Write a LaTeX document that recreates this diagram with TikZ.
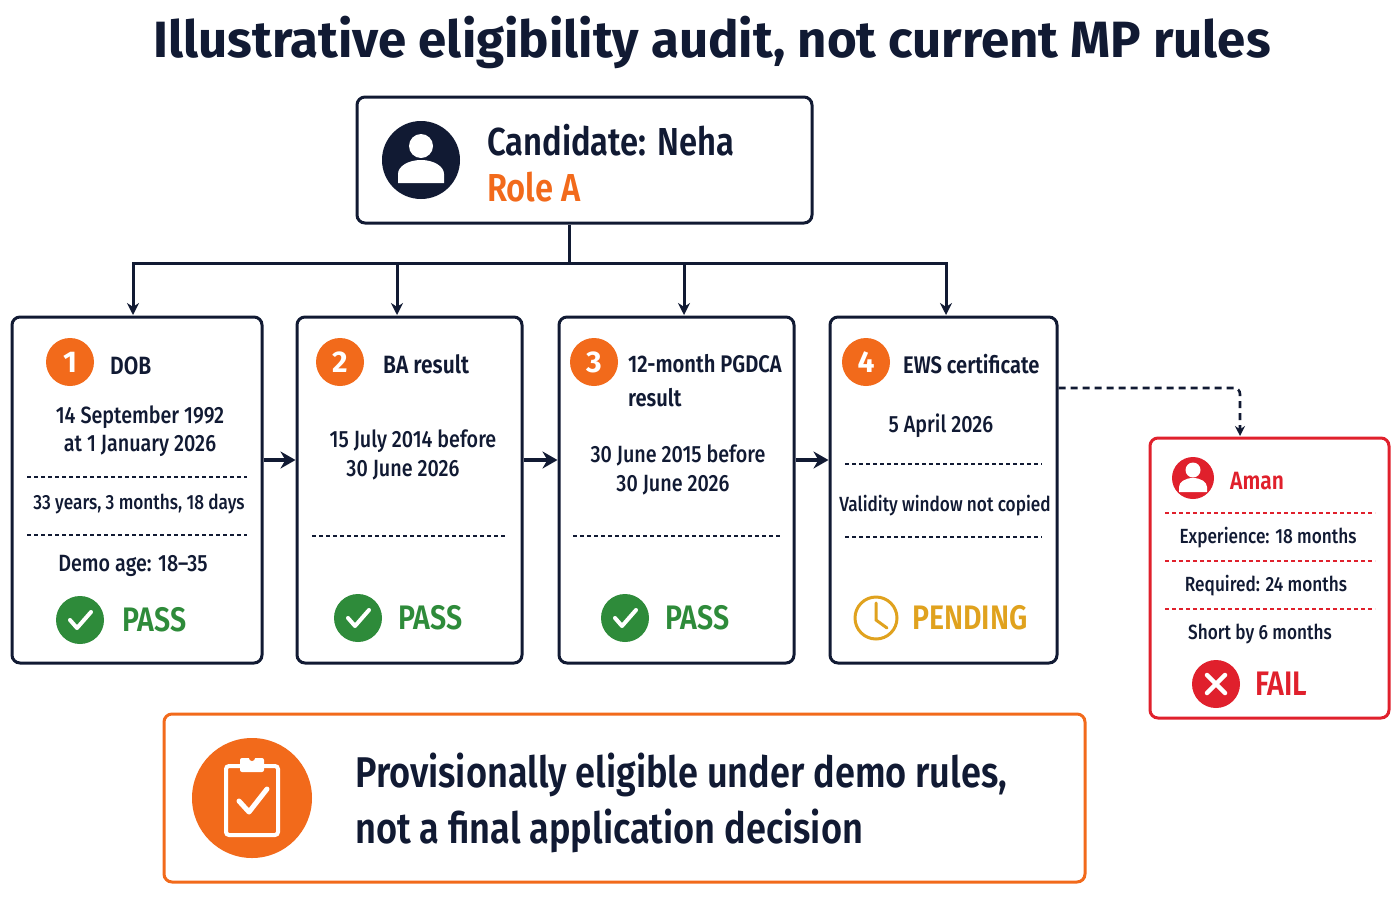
\documentclass[tikz,border=0pt]{standalone}
\usepackage{fontspec}
\setmainfont{Fira Sans}
\newfontfamily\cond[FakeStretch=0.84]{Fira Sans Medium}
\newfontfamily\condm[FakeStretch=0.84]{Fira Sans SemiBold}
\usetikzlibrary{arrows.meta,calc}
\definecolor{navy}{HTML}{111A33}
\definecolor{org}{HTML}{F26A1B}
\definecolor{grn}{HTML}{2E8B3A}
\definecolor{pend}{HTML}{E0A21E}
\definecolor{red1}{HTML}{E0202C}
\tikzset{
 box/.style={draw=navy,line width=3pt,rounded corners=8pt},
 con/.style={draw=navy,line width=3pt,-{Stealth[length=12pt,width=12pt]}},
 big/.style={draw=navy,line width=4pt,-{Stealth[length=15pt,width=17pt]}},
 dsh/.style={draw=navy,line width=1.2pt,dash pattern=on 4pt off 3pt},
 txt/.style={font=\cond\fontsize{23.5}{25}\selectfont,text=navy,inner sep=0pt},
 sm/.style={font=\cond\fontsize{20.5}{23}\selectfont,text=navy,inner sep=0pt},
 head/.style={font=\condm\fontsize{25}{30}\selectfont,text=navy,inner sep=0pt,anchor=west},
 num/.style={circle,fill=org,minimum size=48pt,inner sep=0pt,text=white,font=\bfseries\fontsize{30}{30}\selectfont},
 res/.style={font=\condm\fontsize{34}{36}\selectfont,inner sep=0pt,anchor=west},
 ok/.style={circle,fill=grn,minimum size=48pt,inner sep=0pt},
}
\newcommand{\chk}[1]{\draw[white,line width=4pt,line cap=round,line join=round] ($(#1)+(-10,0)$)--($(#1)+(-3,8)$)--($(#1)+(11,-8)$);}
\begin{document}
\begin{tikzpicture}[x=1pt,y=-1pt]
\useasboundingbox[fill=white] (0,0) rectangle (1400,900);
\node[font=\fontsize{51}{54}\selectfont\bfseries,text=navy] (title) at (712,42) {Illustrative eligibility audit, not current MP rules};
% candidate
\node[box,minimum width=455pt,minimum height=126pt] (cand) at (584.5,160) {};
\node[circle,fill=navy,minimum size=78pt] (ci) at (421,160) {};
\fill[white] (421,146) circle (12);
\fill[white] (398,183) -- (398,174) arc[start angle=180,end angle=0,x radius=23,y radius=-14] -- (444,183) -- cycle;
\node[font=\condm\fontsize{39}{40}\selectfont,text=navy,anchor=west,inner sep=0pt] (cn) at (487,140) {Candidate: Neha};
\node[font=\condm\fontsize{39}{40}\selectfont,text=org,anchor=west,inner sep=0pt] (ra) at (487,187) {Role A};
% boxes
\node[box,minimum width=250pt,minimum height=346pt] (b1) at (137,490) {};
\node[box,minimum width=225pt,minimum height=346pt] (b2) at (409.5,490) {};
\node[box,minimum width=235pt,minimum height=346pt] (b3) at (676.5,490) {};
\node[box,minimum width=227pt,minimum height=346pt] (b4) at (943.5,490) {};
\coordinate (j) at (569,263);
\draw[navy,line width=3pt] (cand.south -| j) -- (j);
\draw[navy,line width=3pt] (133,263) -- (946,263);
\foreach \x/\b in {133/b1,397/b2,684/b3,946/b4} \draw[con] (\x,262) -- (\x,315);
% box1
\node[num] (n1) at (70,362) {1};
\node[head] (h1) at (110,366) {DOB};
\node[txt] (t11) at (140,417) {14 September 1992};
\node[txt] (t12) at (140,446) {at 1 January 2026};
\draw[dsh] (27,477) -- (247,477);
\node[sm] (t13) at (139,504) {33 years, 3 months, 18 days};
\draw[dsh] (27,535) -- (247,535);
\node[txt] (t14) at (133,566) {Demo age: 18–35};
\node[ok] (o1) at (80,620) {}; \chk{o1}
\node[res,text=grn] (p1) at (122,620) {PASS};
% box2
\node[num] (n2) at (340,362) {2};
\node[head] (h2) at (383,364) {BA result};
\node[txt] (t21) at (413,441) {15 July 2014 before};
\node[txt] (t22) at (403,470) {30 June 2026};
\draw[dsh] (312,536) -- (507,536);
\node[ok] (o2) at (358,618) {}; \chk{o2}
\node[res,text=grn] (p2) at (398,618) {PASS};
% box3
\node[num] (n3) at (594,362) {3};
\node[head,font=\condm\fontsize{24}{30}\selectfont] (h3) at (628,364) {12-month PGDCA};
\node[head,font=\condm\fontsize{24}{30}\selectfont] (h3b) at (628,398) {result};
\node[txt] (t31) at (678,455) {30 June 2015 before};
\node[txt] (t32) at (673,485) {30 June 2026};
\draw[dsh] (573,536) -- (780,536);
\node[ok] (o3) at (625,618) {}; \chk{o3}
\node[res,text=grn] (p3) at (665,618) {PASS};
% box4
\node[num] (n4) at (866,362) {4};
\node[head,font=\condm\fontsize{24}{30}\selectfont] (h4) at (903,364) {EWS certificate};
\node[txt] (t41) at (941,426) {5 April 2026};
\draw[dsh] (845,464) -- (1042,464);
\node[sm] (t42) at (945,506) {Validity window not copied};
\draw[dsh] (845,537) -- (1042,537);
\node[circle,draw=pend,line width=3pt,minimum size=42pt] (ck) at (876,618) {};
\draw[pend,line width=3pt,line cap=round] (876,603) -- (876,620) -- (887,628);
\node[res,text=pend] (p4) at (912,618) {PENDING};
% arrows between
\draw[big] (b1.east |- 0,460) -- (b2.west |- 0,460);
\draw[big] (b2.east |- 0,460) -- (b3.west |- 0,460);
\draw[big] (b3.east |- 0,460) -- (b4.west |- 0,460);
% aman
\node[box,draw=red1,minimum width=239pt,minimum height=280pt] (am) at (1269.5,578) {};
\draw[navy,line width=2.6pt,dash pattern=on 7pt off 5pt,rounded corners=6pt,-{Stealth[length=10pt,width=10pt]}] (b4.east |- 0,388) -- (1240,388) -- (1240,436);
\node[circle,fill=red1,minimum size=42pt] (ai) at (1193,478) {};
\fill[white] (1193,470) circle (7.5);
\fill[white] (1179,492) -- (1179,487) arc[start angle=180,end angle=0,x radius=14,y radius=-9] -- (1207,492) -- cycle;
\node[head,text=red1] (an) at (1230,481) {Aman};
\foreach \yy in {513,561,609} \draw[red1,line width=1.2pt,dash pattern=on 4pt off 3pt] (1165,\yy) -- (1375,\yy);
\node[sm] (a1) at (1268,538) {Experience: 18 months};
\node[sm] (a2) at (1266,586) {Required: 24 months};
\node[sm] (a3) at (1260,634) {Short by 6 months};
\node[circle,fill=red1,minimum size=48pt] (fx) at (1216,684) {};
\draw[white,line width=4.5pt,line cap=round] (1207,675) -- (1225,693) (1225,675) -- (1207,693);
\node[res,text=red1] (fl) at (1255,684) {FAIL};
% bottom
\node[box,draw=org,minimum width=921pt,minimum height=168pt] (bt) at (624.5,798) {};
\node[circle,fill=org,minimum size=120pt] (bi) at (252,798) {};
\draw[white,line width=4pt,rounded corners=3pt] (226,766) rectangle (278,835);
\fill[white,rounded corners=2pt] (240,758) rectangle (264,772);
\fill[org] (252,758) circle (3);
\draw[white,line width=5pt,line cap=round,line join=round] (239,801) -- (249,812) -- (267,789);
\node[font=\condm\fontsize{43}{56}\selectfont,text=navy,anchor=west,align=left,inner sep=0pt] (bx) at (355,803) {Provisionally eligible under demo rules,\\not a final application decision};
\end{tikzpicture}
\end{document}
